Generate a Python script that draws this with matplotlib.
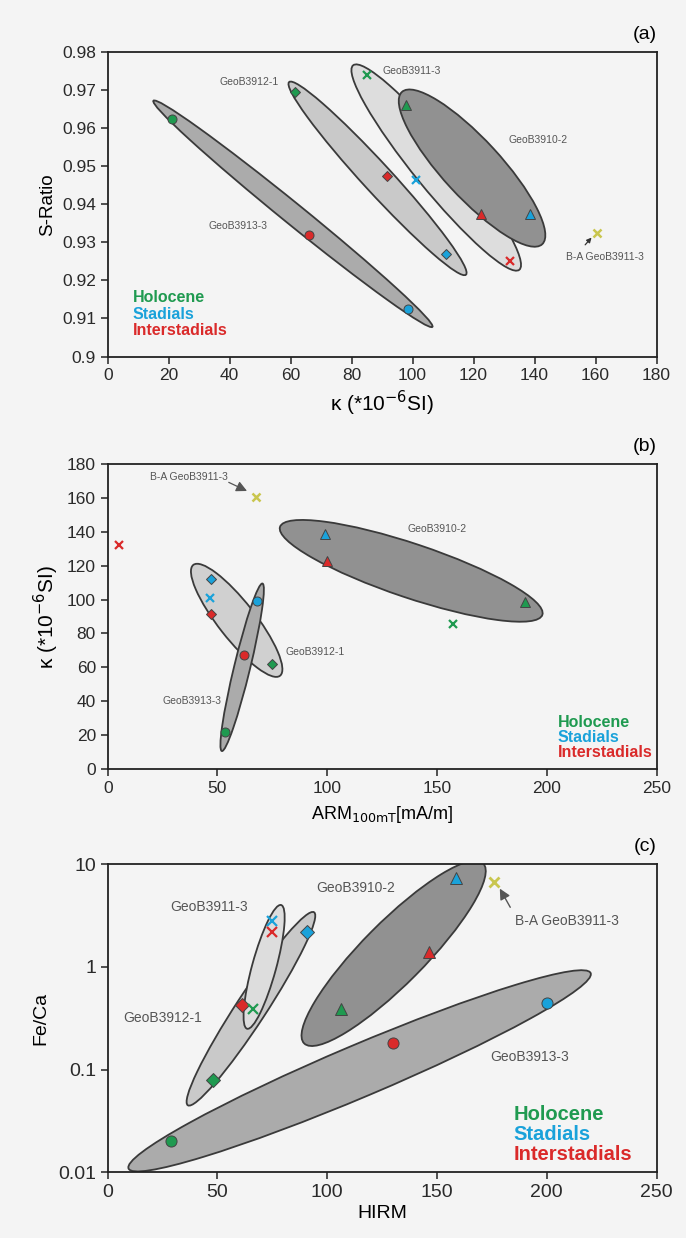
import numpy as np
import matplotlib
matplotlib.use('Agg')
import matplotlib.pyplot as plt
from matplotlib.patches import Ellipse
from matplotlib.transforms import IdentityTransform
from matplotlib.ticker import FixedLocator, FixedFormatter

plt.rcParams['font.family'] = ['Liberation Sans Narrow', 'Liberation Sans', 'DejaVu Sans']

GREEN = '#1f9a50'
BLUE = '#1aa2da'
RED = '#da2a2a'
YELLOW = '#c9c64e'
LABEL_GRAY = '#555555'

# order of points in each core: Holocene, Stadial, Interstadial
periods = ['Holocene', 'Stadials', 'Interstadials']
period_colors = [GREEN, BLUE, RED]

# panel (a): kappa vs S-ratio
a_kappa = {'GeoB3913-3': [21, 98.5, 66], 'GeoB3912-1': [61.5, 111, 91.5],
           'GeoB3911-3': [85, 101, 132], 'GeoB3910-2': [98, 138.5, 122.5]}
a_sratio = {'GeoB3913-3': [0.9625, 0.9125, 0.932], 'GeoB3912-1': [0.9695, 0.927, 0.9475],
            'GeoB3911-3': [0.974, 0.9465, 0.925], 'GeoB3910-2': [0.966, 0.9375, 0.9375]}
a_ba = [160.5, 0.9325]
a_ellipse = {'GeoB3911-3': [(80.5, 0.9765), (135, 0.9228)],
             'GeoB3912-1': [(59.5, 0.9721), (117.5, 0.9215)],
             'GeoB3913-3': [(15, 0.9672), (106.5, 0.9078)],
             'GeoB3910-2': [(96.5, 0.9695), (142.5, 0.9295)]}

# panel (b): ARM vs kappa
b_arm = {'GeoB3913-3': [53.5, 68, 62], 'GeoB3912-1': [75, 47, 47],
         'GeoB3911-3': [157.5, 46.5, 5], 'GeoB3910-2': [190, 99, 100]}
b_kappa = {'GeoB3913-3': [21.5, 99, 67], 'GeoB3912-1': [62, 112, 91.5],
           'GeoB3911-3': [85.5, 101, 132], 'GeoB3910-2': [98.5, 139, 123]}
b_ba = [67.5, 160.5]
b_ellipse = {'GeoB3912-1': [(39, 120.5), (78.5, 55)],
             'GeoB3913-3': [(52, 10.5), (70.5, 109.5)],
             'GeoB3910-2': [(78.5, 143), (198, 91)]}

# panel (c): HIRM vs Fe/Ca
c_hirm = {'GeoB3913-3': [29, 200, 130], 'GeoB3912-1': [48, 91, 61],
          'GeoB3911-3': [66, 75, 75], 'GeoB3910-2': [106.5, 158.5, 146.5]}
c_feca = {'GeoB3913-3': [0.02, 0.45, 0.18], 'GeoB3912-1': [0.08, 2.2, 0.43],
          'GeoB3911-3': [0.39, 2.8, 2.2], 'GeoB3910-2': [0.39, 7.3, 1.4]}
c_ba = [176, 6.7]
c_ellipse = {'GeoB3913-3': [(9.5, 0.0109), (220, 0.87)],
             'GeoB3912-1': [(36.5, 0.045), (94, 3.4)],
             'GeoB3911-3': [(63.5, 0.25), (79, 4.0)],
             'GeoB3910-2': [(89.5, 0.18), (171, 10.2)]}

markers = {'GeoB3913-3': 'o', 'GeoB3912-1': 'D', 'GeoB3911-3': 'x', 'GeoB3910-2': '^'}
fills = {'GeoB3913-3': '#ababab', 'GeoB3912-1': '#c9c9c9',
         'GeoB3911-3': '#dddddd', 'GeoB3910-2': '#919191'}

fig = plt.figure(figsize=(6.86, 12.38), dpi=100, facecolor='#f4f4f4')
axa = fig.add_axes([0.157, 0.712, 0.800, 0.246])
axb = fig.add_axes([0.157, 0.379, 0.800, 0.246])
axc = fig.add_axes([0.157, 0.053, 0.800, 0.249])


def style(ax):
    ax.set_facecolor('#f4f4f4')
    for s in ax.spines.values():
        s.set_linewidth(1.3)
        s.set_color('#222222')
    ax.tick_params(direction='out', length=5, width=1.1, labelsize=12.5, color='#222222',
                   labelcolor='#2a2a2a')
    ax.tick_params(which='minor', length=0)


def ellipse(ax, p1, p2, width, color):
    d1 = ax.transData.transform(p1)
    d2 = ax.transData.transform(p2)
    c = (d1 + d2) / 2
    L = np.hypot(*(d2 - d1))
    ang = np.degrees(np.arctan2(d2[1] - d1[1], d2[0] - d1[0]))
    e = Ellipse(c, L, width, angle=ang, transform=IdentityTransform(),
                facecolor=color, edgecolor='#3a3a3a', lw=1.3, zorder=1)
    ax.add_artist(e)


def points(ax, xs, ys, ms):
    for core in xs:
        for i in range(3):
            m = markers[core]
            if m == 'x':
                ax.plot(xs[core][i], ys[core][i], m, color=period_colors[i], ms=ms * 0.9,
                        mew=1.6, zorder=5)
            else:
                ax.plot(xs[core][i], ys[core][i], m, mfc=period_colors[i], mec='#444444',
                        ms=ms if m != 'D' else ms * 0.85, mew=0.7, zorder=5)


def legend(ax, x, ys, size):
    for i, p in enumerate(periods):
        ax.text(x, ys[i], p, color=period_colors[i], fontsize=size, ha='left',
                va='center', fontweight='bold', family=['Liberation Sans', 'DejaVu Sans'],
                zorder=6)


# ---- panel (a)
style(axa)
axa.set_xlim(0, 180)
axa.set_ylim(0.9, 0.98)
axa.set_xticks(range(0, 181, 20))
yt = [0.9, 0.91, 0.92, 0.93, 0.94, 0.95, 0.96, 0.97, 0.98]
axa.yaxis.set_major_locator(FixedLocator(yt))
axa.yaxis.set_major_formatter(FixedFormatter(['%g' % v for v in yt]))
axa.set_xlabel('κ (*10$^{-6}$SI)', fontsize=15, labelpad=4)
axa.set_ylabel('S-Ratio', fontsize=13.5, labelpad=4)
for core, (p1, p2) in a_ellipse.items():
    w = {'GeoB3911-3': 44, 'GeoB3912-1': 29, 'GeoB3913-3': 21, 'GeoB3910-2': 58}[core]
    ellipse(axa, p1, p2, w, fills[core])
points(axa, a_kappa, a_sratio, 6.5)
axa.plot(*a_ba, 'x', color=YELLOW, ms=6, mew=1.8, zorder=5)
axa.annotate('', xy=(159.3, 0.9318), xytext=(156, 0.9288),
             arrowprops=dict(arrowstyle='-|>', color='#333333', lw=0.9, mutation_scale=7))
axa.text(163, 0.9262, 'B-A GeoB3911-3', fontsize=7.5, color=LABEL_GRAY, ha='center', va='center')
axa.text(56, 0.9722, 'GeoB3912-1', fontsize=7.5, color=LABEL_GRAY, ha='right', va='center')
axa.text(90, 0.975, 'GeoB3911-3', fontsize=7.5, color=LABEL_GRAY, ha='left', va='center')
axa.text(141, 0.9568, 'GeoB3910-2', fontsize=7.5, color=LABEL_GRAY, ha='center', va='center')
axa.text(52.3, 0.9344, 'GeoB3913-3', fontsize=7.5, color=LABEL_GRAY, ha='right', va='center')
legend(axa, 8.3, [0.9154, 0.9111, 0.9068], 11.5)
axa.text(1.0, 1.03, '(a)', transform=axa.transAxes, ha='right', va='bottom', fontsize=14)

# ---- panel (b)
style(axb)
axb.set_xlim(0, 250)
axb.set_ylim(0, 180)
axb.set_xticks(range(0, 251, 50))
axb.set_yticks(range(0, 181, 20))
axb.set_xlabel('ARM$_{\\mathrm{100mT}}$[mA/m]', fontsize=13, labelpad=6)
axb.set_ylabel('κ (*10$^{-6}$SI)', fontsize=15, labelpad=4)
for core, (p1, p2) in b_ellipse.items():
    w = {'GeoB3912-1': 37, 'GeoB3913-3': 16, 'GeoB3910-2': 54}[core]
    ellipse(axb, p1, p2, w, fills[core] if core != 'GeoB3912-1' else '#d0d0d0')
points(axb, b_arm, b_kappa, 6.5)
axb.plot(*b_ba, 'x', color=YELLOW, ms=6, mew=1.8, zorder=5)
axb.annotate('', xy=(64.6, 163.5), xytext=(54, 170),
             arrowprops=dict(arrowstyle='-|>', color='#555555', lw=0.9, mutation_scale=16))
axb.text(37.2, 172.2, 'B-A GeoB3911-3', fontsize=7.5, color=LABEL_GRAY, ha='center', va='center')
axb.text(150, 141.5, 'GeoB3910-2', fontsize=7.5, color=LABEL_GRAY, ha='center', va='center')
axb.text(81, 69.2, 'GeoB3912-1', fontsize=7.5, color=LABEL_GRAY, ha='left', va='center')
axb.text(51.7, 40, 'GeoB3913-3', fontsize=7.5, color=LABEL_GRAY, ha='right', va='center')
legend(axb, 205, [27.1, 18.3, 9.4], 11.5)
axb.text(1.0, 1.03, '(b)', transform=axb.transAxes, ha='right', va='bottom', fontsize=14)

# ---- panel (c)
style(axc)
axc.set_xlim(0, 250)
axc.set_yscale('log')
axc.set_ylim(0.01, 10)
axc.set_xticks(range(0, 251, 50))
yc = [0.01, 0.1, 1, 10]
axc.yaxis.set_major_locator(FixedLocator(yc))
axc.yaxis.set_major_formatter(FixedFormatter(['0.01', '0.1', '1', '10']))
axc.yaxis.set_minor_locator(FixedLocator([]))
axc.tick_params(labelsize=14)
axc.set_xlabel('HIRM', fontsize=14, labelpad=3)
axc.set_ylabel('Fe/Ca', fontsize=14, labelpad=6)
for core in ['GeoB3913-3', 'GeoB3912-1', 'GeoB3911-3', 'GeoB3910-2']:
    p1, p2 = c_ellipse[core]
    w = {'GeoB3913-3': 52, 'GeoB3912-1': 30, 'GeoB3911-3': 24, 'GeoB3910-2': 62}[core]
    ellipse(axc, p1, p2, w, fills[core])
points(axc, c_hirm, c_feca, 8)
axc.plot(*c_ba, 'x', color=YELLOW, ms=7.5, mew=2, zorder=5)
axc.annotate('', xy=(178, 6.1), xytext=(184, 3.6),
             arrowprops=dict(arrowstyle='-|>', color='#555555', lw=1.0, mutation_scale=16))
axc.text(209, 2.8, 'B-A GeoB3911-3', fontsize=10, color=LABEL_GRAY, ha='center', va='center')
axc.text(113, 5.9, 'GeoB3910-2', fontsize=10, color=LABEL_GRAY, ha='center', va='center')
axc.text(46, 3.8, 'GeoB3911-3', fontsize=10, color=LABEL_GRAY, ha='center', va='center')
axc.text(25, 0.32, 'GeoB3912-1', fontsize=10, color=LABEL_GRAY, ha='center', va='center')
axc.text(192, 0.132, 'GeoB3913-3', fontsize=10, color=LABEL_GRAY, ha='center', va='center')
legend(axc, 185, [0.037, 0.0235, 0.015], 14.5)
axc.text(1.0, 1.03, '(c)', transform=axc.transAxes, ha='right', va='bottom', fontsize=14)

fig.savefig('out.png', dpi=100, facecolor=fig.get_facecolor())
